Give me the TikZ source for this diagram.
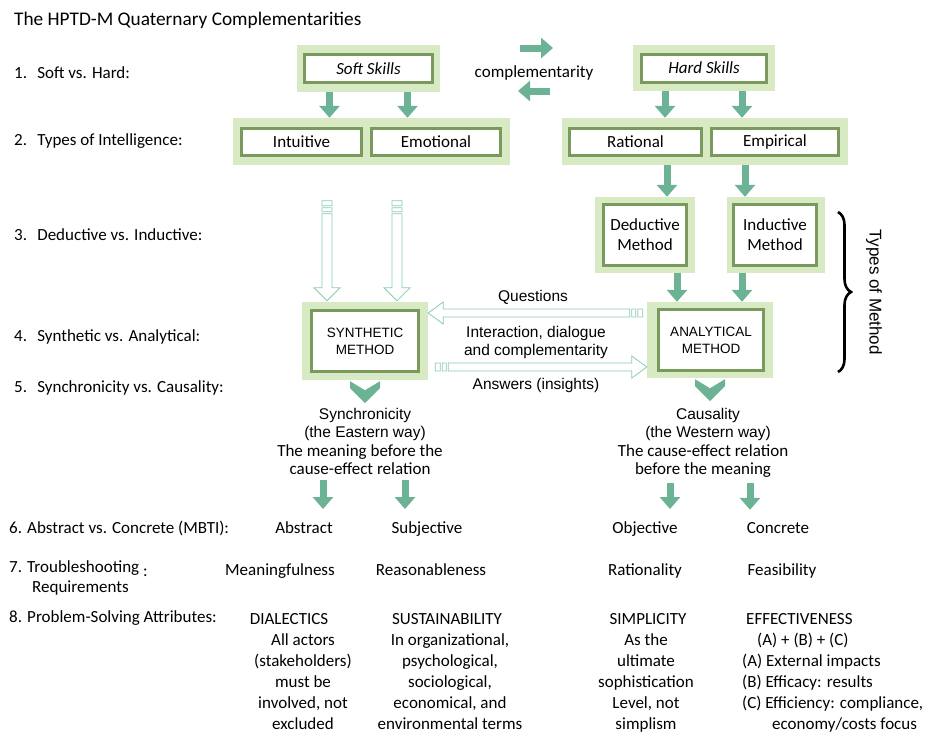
\documentclass[tikz,border=0pt]{standalone}
\usepackage{fontspec}
\setmainfont{Carlito}
\newfontfamily\arialf{Liberation Sans}
\usetikzlibrary{arrows.meta,calc,decorations.pathreplacing}

\definecolor{boxfill}{RGB}{216,234,196}
\definecolor{boxline}{RGB}{122,153,92}
\definecolor{arrowgreen}{RGB}{108,178,148}
\definecolor{hollowgreen}{RGB}{140,204,178}

\tikzset{
  outerbox/.style={fill=boxfill, inner sep=0pt},
  innerbox/.style={draw=boxline, line width=3pt, fill=white, inner sep=0pt, align=center,
    font=\fontsize{17}{20}\selectfont},
  fatarrow/.style={draw=arrowgreen, line width=7pt, -{Triangle[width=20pt,length=12pt]}},
  hollowarrow/.style={draw=hollowgreen, line width=0.8pt, fill=white},
  txt/.style={inner sep=0pt, font=\fontsize{17}{21}\selectfont},
  arialtxt/.style={inner sep=0pt, align=center, font=\arialf\fontsize{15.5}{18}\selectfont},
}

% hollow block arrow, tail #1 to tip #2 (horizontal)
\newcommand{\hollowh}[2]{%
  \draw[hollowarrow] let \p1=(#1), \p2=(#2), \p3=($(#2)!15pt!(#1)$),
      \p4=($(#1)!-2pt!(#2)$), \p5=($(#1)!-6pt!(#2)$),
      \p6=($(#1)!-8pt!(#2)$), \p7=($(#1)!-13pt!(#2)$) in
    (\x1,\y1+4) -- (\x3,\y1+4) -- (\x3,\y1+11) -- (\x2,\y2) -- (\x3,\y1-11)
    -- (\x3,\y1-4) -- (\x1,\y1-4) -- cycle
    (\x4,\y1+4) rectangle (\x5,\y1-4) (\x6,\y1+4) rectangle (\x7,\y1-4);}
% same, vertical
\newcommand{\hollowv}[2]{%
  \draw[hollowarrow] let \p1=(#1), \p2=(#2), \p3=($(#2)!13pt!(#1)$),
      \p4=($(#1)!-2pt!(#2)$), \p5=($(#1)!-6pt!(#2)$),
      \p6=($(#1)!-8pt!(#2)$), \p7=($(#1)!-13pt!(#2)$) in
    (\x1+5,\y1) -- (\x1+5,\y3) -- (\x1+13,\y3) -- (\x2,\y2) -- (\x1-13,\y3)
    -- (\x1-5,\y3) -- (\x1-5,\y1) -- cycle
    (\x1-5,\y4) rectangle (\x1+5,\y5) (\x1-5,\y6) rectangle (\x1+5,\y7);}

\begin{document}
\begin{tikzpicture}[x=1pt,y=1pt]
\useasboundingbox[fill=white] (0,0) rectangle (928,-732);

% row labels
\node[txt,anchor=base west,font=\fontsize{19.3}{22}\selectfont] (title) at (14,-25) {The HPTD-M Quaternary Complementarities};
\node[txt,anchor=base west] (lab1) at (14,-78) {1.\hspace{0.6em}Soft vs. Hard:};
\node[txt,anchor=base west] (lab2) at (14,-145) {2.\hspace{0.6em}Types of Intelligence:};
\node[txt,anchor=base west] (lab3) at (14,-240) {3.\hspace{0.6em}Deductive vs. Inductive:};
\node[txt,anchor=base west] (lab4) at (14,-341) {4.\hspace{0.6em}Synthetic vs. Analytical:};
\node[txt,anchor=base west] (lab5) at (14,-392) {5.\hspace{0.6em}Synchronicity vs. Causality:};
\node[txt,anchor=base west] (lab6) at (9,-533) {6. Abstract vs. Concrete (MBTI):};
\node[txt,anchor=base west] (lab7) at (9,-572) {7. Troubleshooting \raisebox{-4pt}{:}};
\node[txt,anchor=base west] (lab7b) at (32,-592) {Requirements};
\node[txt,anchor=base west] (lab8) at (9,-622) {8. Problem-Solving Attributes:};

% skills
\node[outerbox,minimum width=143pt,minimum height=47pt] (softo) at (368.5,-68.5) {};
\node[innerbox,minimum width=128pt,minimum height=28pt] (soft) at (softo) {\itshape Soft Skills};
\node[outerbox,minimum width=142pt,minimum height=46pt] (hardo) at (704,-68) {};
\node[innerbox,minimum width=125pt,minimum height=28pt] (hard) at (hardo) {\itshape Hard Skills};
\node[txt,anchor=base] (compl) at (534,-77) {complementarity};
\draw[fatarrow] ([shift={(-14,29)}]compl.base) -- ++(33,0);
\draw[fatarrow] ([shift={(16,-14)}]compl.base) -- ++(-32,0);

% intelligence
\node[outerbox,minimum width=277pt,minimum height=47pt] (intl) at (371.5,-141.5) {};
\node[innerbox,minimum width=120pt,minimum height=27pt] (intu) at (301.5,-142) {Intuitive};
\node[innerbox,minimum width=129pt,minimum height=27pt] (emo) at (436,-142) {Emotional};
\node[outerbox,minimum width=286pt,minimum height=47pt] (intr) at (705,-141.5) {};
\node[innerbox,minimum width=132pt,minimum height=27pt] (rat) at (635.5,-142) {Rational};
\node[innerbox,minimum width=127pt,minimum height=27pt] (emp) at (775,-142) {Empirical};
\draw[fatarrow] ([xshift=-39pt]softo.south) -- ([xshift=-39pt]softo.south |- intl.north);
\draw[fatarrow] ([xshift=39pt]softo.south) -- ([xshift=39pt]softo.south |- intl.north);
\draw[fatarrow] ([xshift=-39pt]hardo.south) -- ([xshift=-39pt]hardo.south |- intr.north);
\draw[fatarrow] ([xshift=38pt]hardo.south) -- ([xshift=38pt]hardo.south |- intr.north);

% methods
\node[outerbox,minimum width=100pt,minimum height=76pt] (dedo) at (645,-235) {};
\node[innerbox,minimum width=83pt,minimum height=61pt] (ded) at (dedo) {Deductive\\Method};
\node[outerbox,minimum width=98pt,minimum height=76pt] (indo) at (776,-235) {};
\node[innerbox,minimum width=83pt,minimum height=61pt] (ind) at (775,-235) {Inductive\\Method};
\draw[fatarrow] ([xshift=22pt]dedo.north |- intr.south) -- ([xshift=22pt]dedo.north);
\draw[fatarrow] ([xshift=-31pt]indo.north |- intr.south) -- ([xshift=-31pt]indo.north);

\node[outerbox,minimum width=126pt,minimum height=76pt] (anao) at (710,-340) {};
\node[innerbox,minimum width=105pt,minimum height=61pt,font=\arialf\fontsize{13.5}{17}\selectfont] (ana) at (711,-340) {ANALYTICAL\\METHOD};
\node[outerbox,minimum width=126pt,minimum height=78pt] (syno) at (365,-341) {};
\node[innerbox,minimum width=107pt,minimum height=61pt,font=\arialf\fontsize{13.5}{17}\selectfont] (syn) at (365,-341) {SYNTHETIC\\METHOD};
\draw[fatarrow] ([xshift=32pt]dedo.south) -- ([xshift=32pt]dedo.south |- anao.north);
\draw[fatarrow] ([xshift=-34pt]indo.south) -- ([xshift=-34pt]indo.south |- anao.north);

% hollow arrows
\coordinate (d1tip) at ([shift={(-38,1)}]syno.north);
\coordinate (d1tail) at ([yshift=87pt]d1tip);
\coordinate (d2tip) at ([shift={(32,1)}]syno.north);
\coordinate (d2tail) at ([yshift=87pt]d2tip);
\hollowv{d1tail}{d1tip}
\hollowv{d2tail}{d2tip}
\coordinate (qtail) at ([shift={(-17,27)}]anao.west);
\coordinate (qtip) at ([yshift=28pt]syno.east);
\coordinate (atail) at ([shift={(20,-26)}]syno.east);
\coordinate (atip) at ([yshift=-27pt]anao.west);
\hollowh{qtail}{qtip}
\hollowh{atail}{atip}
\node[arialtxt,anchor=base] (quest) at (533,-301) {Questions};
\node[arialtxt,anchor=base] (inter) at (536,-355) {Interaction, dialogue\\and complementarity};
\node[arialtxt,anchor=base] (answ) at (536,-389) {Answers (insights)};

% brace
\coordinate (brtop) at (838,-212);
\coordinate (brbot) at (838,-372);
\draw[decorate,decoration={brace,amplitude=13pt},line width=2.6pt] (brtop) -- (brbot);
\node[arialtxt,rotate=-90,font=\arialf\fontsize{17}{20}\selectfont] (types) at (874,-292) {Types of Method};

% synchronicity / causality
\fill[arrowgreen] ([shift={(-15,-1)}]syno.south) -- ++(15,-9) -- ++(15,9) -- ++(0,-7)
  -- ++(-15,-15) -- ++(-15,15) -- cycle;
\fill[arrowgreen] ([shift={(-15,-1)}]anao.south) -- ++(15,-9) -- ++(15,9) -- ++(0,-7)
  -- ++(-15,-15) -- ++(-15,15) -- cycle;
\node[arialtxt,anchor=base] (synct) at (365,-437) {Synchronicity\\(the Eastern way)};
\node[txt,anchor=base,align=center,font=\fontsize{17}{18}\selectfont] (syncb) at (360,-474) {The meaning before the\\cause-effect relation};
\node[arialtxt,anchor=base] (caust) at (708,-437) {Causality\\(the Western way)};
\node[txt,anchor=base,align=center,font=\fontsize{17}{18}\selectfont] (causb) at (703,-474) {The cause-effect relation\\before the meaning};

% rows 6 to 8
\node[txt,anchor=base] (abs) at (304,-533) {Abstract};
\node[txt,anchor=base] (subj) at (427,-533) {Subjective};
\node[txt,anchor=base] (obj) at (645,-533) {Objective};
\node[txt,anchor=base] (conc) at (778,-533) {Concrete};
\draw[fatarrow,shorten <=6pt,shorten >=12pt] ([xshift=19pt]abs.north |- syncb.south) -- ([xshift=19pt]abs.north);
\draw[fatarrow,shorten <=6pt,shorten >=12pt] ([xshift=-22pt]subj.north |- syncb.south) -- ([xshift=-22pt]subj.north);
\draw[fatarrow,shorten <=6pt,shorten >=12pt] ([xshift=25pt]obj.north |- causb.south) -- ([xshift=25pt]obj.north);
\draw[fatarrow,shorten <=6pt,shorten >=12pt] ([xshift=-28pt]conc.north |- causb.south) -- ([xshift=-28pt]conc.north);

\node[txt,anchor=base] (mean) at (280,-575) {Meaningfulness};
\node[txt,anchor=base] (reas) at (431,-575) {Reasonableness};
\node[txt,anchor=base] (ratio) at (645,-575) {Rationality};
\node[txt,anchor=base] (feas) at (782,-575) {Feasibility};

% last line baselines (base anchor = last line)
\node[txt,anchor=base] (dial) at (289,-624) {DIALECTICS};
\node[txt,anchor=base,align=center] (dialb) at (303,-729) {All actors\\(stakeholders)\\must be\\involved, not\\excluded};
\node[txt,anchor=base] (sust) at (447,-624) {SUSTAINABILITY};
\node[txt,anchor=base,align=center] (sustb) at (450,-729) {In organizational,\\psychological,\\sociological,\\economical, and\\environmental terms};
\node[txt,anchor=base] (simp) at (648,-624) {SIMPLICITY};
\node[txt,anchor=base,align=center] (simpb) at (646,-729) {As the\\ultimate\\sophistication\\Level, not\\simplism};
\node[txt,anchor=base west] (effe) at (746,-624) {EFFECTIVENESS};
\node[txt,anchor=base west,align=left] (effeb) at (742,-729) {\hspace*{15pt}(A) + (B) + (C)\\(A) External impacts\\(B) Efficacy: results\\(C) Efficiency: compliance,\\\hspace*{30pt}economy/costs focus};
\end{tikzpicture}
\end{document}
